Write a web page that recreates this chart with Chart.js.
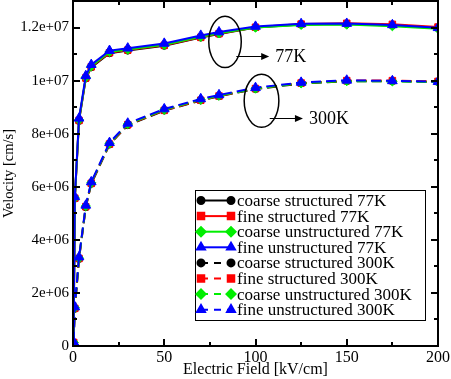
<!DOCTYPE html>
<html>
<head>
<meta charset="utf-8">
<script src="https://cdn.jsdelivr.net/npm/chart.js@4.4.1/dist/chart.umd.min.js"></script>
<style>
  html, body { margin: 0; padding: 0; background: #fff; }
  #wrap { width: 451px; height: 379px; }
</style>
</head>
<body>
<div id="wrap"><canvas id="c" width="451" height="379"></canvas></div>
<script>
// ---- data ----
const fieldValues = [0.3, 1, 3.3, 7, 10, 20, 30, 50, 70, 80, 100, 125, 150, 175, 200]; // kV/cm

const coarseStructured77   = [0.12e6, 5.55e6, 8.48e6, 10.08e6, 10.50e6, 11.03e6, 11.13e6, 11.31e6, 11.62e6, 11.76e6, 12.00e6, 12.11e6, 12.13e6, 12.08e6, 11.98e6];
const fineStructured77     = [0.13e6, 5.57e6, 8.50e6, 10.10e6, 10.52e6, 11.05e6, 11.15e6, 11.33e6, 11.63e6, 11.77e6, 12.01e6, 12.13e6, 12.16e6, 12.12e6, 12.02e6];
const coarseUnstructured77 = [0.14e6, 5.58e6, 8.52e6, 10.12e6, 10.54e6, 11.08e6, 11.17e6, 11.35e6, 11.65e6, 11.78e6, 12.00e6, 12.10e6, 12.11e6, 12.05e6, 11.95e6];
const fineUnstructured77   = [0.15e6, 5.62e6, 8.58e6, 10.18e6, 10.60e6, 11.13e6, 11.22e6, 11.40e6, 11.70e6, 11.83e6, 12.04e6, 12.14e6, 12.15e6, 12.10e6, 11.99e6];

const coarseStructured300   = [0.12e6, 1.40e6, 3.28e6, 5.23e6, 6.11e6, 7.59e6, 8.32e6, 8.87e6, 9.25e6, 9.41e6, 9.68e6, 9.89e6, 9.98e6, 9.98e6, 9.95e6];
const fineStructured300     = [0.13e6, 1.42e6, 3.30e6, 5.25e6, 6.13e6, 7.61e6, 8.34e6, 8.88e6, 9.26e6, 9.42e6, 9.70e6, 9.91e6, 10.00e6, 10.00e6, 9.97e6];
const coarseUnstructured300 = [0.14e6, 1.44e6, 3.31e6, 5.27e6, 6.15e6, 7.63e6, 8.36e6, 8.90e6, 9.28e6, 9.43e6, 9.70e6, 9.90e6, 9.98e6, 9.97e6, 9.94e6];
const fineUnstructured300   = [0.15e6, 1.47e6, 3.35e6, 5.30e6, 6.18e6, 7.66e6, 8.39e6, 8.93e6, 9.31e6, 9.46e6, 9.73e6, 9.93e6, 10.01e6, 9.99e6, 9.96e6];

const seriesLabels = [
  'coarse structured 77K', 'fine structured 77K', 'coarse unstructured 77K', 'fine unstructured 77K',
  'coarse structured 300K', 'fine structured 300K', 'coarse unstructured 300K', 'fine unstructured 300K'
];
const seriesValues = [
  coarseStructured77, fineStructured77, coarseUnstructured77, fineUnstructured77,
  coarseStructured300, fineStructured300, coarseUnstructured300, fineUnstructured300
];

const xTickValues = [0, 50, 100, 150, 200];
const xTickLabels = ['0', '50', '100', '150', '200'];
const yTickValues = [0, 2e6, 4e6, 6e6, 8e6, 1e7, 1.2e7];
const yTickLabels = ['0', '2e+06', '4e+06', '6e+06', '8e+06', '1e+07', '1.2e+07'];

// annotations in data units
const groupNotes = [
  { label: '77K',  cx: 83.3, cy: 11.46e6, rx: 8.9, ry: 0.97e6, ax0: 89.5, ax1: 107.5, ay: 10.93e6 },
  { label: '300K', cx: 103.3, cy: 9.24e6, rx: 9.5, ry: 1.0e6, ax0: 107.8, ax1: 126.0, ay: 8.61e6 }
];

// ---- styles ----
const colors = ['#000000', '#ff0000', '#00ee00', '#0000ff'];
const styles = ['circle', 'rect', 'rectRot', 'triangle'];
const radii = [3.5, 4.6, 4.6, 5.6];
const SERIF = '"Liberation Serif", "DejaVu Serif", serif';

const datasets = seriesValues.map((vals, i) => {
  const k = i % 4;
  const dashed = i >= 4;
  return {
    label: seriesLabels[i],
    data: fieldValues.map((x, j) => ({ x: x, y: vals[j] })),
    showLine: true,
    borderColor: colors[k],
    backgroundColor: colors[k],
    borderWidth: 2,
    borderDash: dashed ? [10, 5] : [],
    pointStyle: styles[k],
    pointRadius: radii[k],
    pointBorderWidth: 1,
    pointBorderColor: colors[k],
    pointBackgroundColor: colors[k],
    tension: 0,
    order: 4 - k
  };
});

const frame = {
  id: 'frame',
  afterDraw(chart) {
    const { ctx, chartArea: a, scales: { x, y } } = chart;
    ctx.save();
    ctx.strokeStyle = '#000';
    ctx.lineWidth = 2;
    ctx.setLineDash([]);
    ctx.strokeRect(a.left, a.top, a.right - a.left, a.bottom - a.top);
    // inward ticks on all four sides
    ctx.beginPath();
    for (let v = 0; v <= 200; v += 25) {
      const px = Math.round(x.getPixelForValue(v));
      const len = v % 50 === 0 ? 7 : 4;
      ctx.moveTo(px, a.bottom); ctx.lineTo(px, a.bottom - len);
      ctx.moveTo(px, a.top); ctx.lineTo(px, a.top + len);
    }
    for (let v = 0; v <= 1.3e7; v += 1e6) {
      const py = Math.round(y.getPixelForValue(v));
      const len = (v / 1e6) % 2 === 0 ? 7 : 4;
      ctx.moveTo(a.left, py); ctx.lineTo(a.left + len, py);
      ctx.moveTo(a.right, py); ctx.lineTo(a.right - len, py);
    }
    ctx.stroke();

    // group annotations (ellipse + arrow + label)
    groupNotes.forEach(n => {
      const cx = x.getPixelForValue(n.cx), cy = y.getPixelForValue(n.cy);
      const rx = x.getPixelForValue(n.cx + n.rx) - cx;
      const ry = cy - y.getPixelForValue(n.cy + n.ry);
      ctx.lineWidth = 1.5;
      ctx.beginPath();
      ctx.ellipse(cx, cy, rx, ry, 0, 0, Math.PI * 2);
      ctx.stroke();
      const x0 = x.getPixelForValue(n.ax0), x1 = x.getPixelForValue(n.ax1), ay = Math.round(y.getPixelForValue(n.ay)) + 0.5;
      ctx.lineWidth = 1;
      ctx.beginPath(); ctx.moveTo(x0, ay); ctx.lineTo(x1 - 6, ay); ctx.stroke();
      ctx.fillStyle = '#000';
      ctx.beginPath(); ctx.moveTo(x1, ay); ctx.lineTo(x1 - 8, ay - 3.5); ctx.lineTo(x1 - 8, ay + 3.5); ctx.closePath(); ctx.fill();
      ctx.font = '18px ' + SERIF;
      ctx.textBaseline = 'middle';
      ctx.textAlign = 'left';
      ctx.fillText(n.label, x1 + 6, ay + 1);
    });

    // legend box
    const lx = 195, ly = 190, lw = 230, lh = 130;
    ctx.fillStyle = '#fff';
    ctx.fillRect(lx, ly, lw, lh);
    ctx.lineWidth = 1;
    ctx.strokeStyle = '#000';
    ctx.strokeRect(lx + 0.5, ly + 0.5, lw, lh);
    chart.data.datasets.forEach((ds, i) => {
      const yy = ly + 10.5 + i * 15.6;
      const s0 = lx + 6, s1 = lx + 36;
      ctx.strokeStyle = ds.borderColor;
      ctx.lineWidth = 2;
      ctx.setLineDash(ds.borderDash.length ? [7, 6] : []);
      ctx.beginPath(); ctx.moveTo(s0, yy); ctx.lineTo(s1, yy); ctx.stroke();
      ctx.setLineDash([]);
      ctx.fillStyle = ds.backgroundColor;
      const r = Math.min(ds.pointRadius, 4.6);
      Chart.helpers.drawPoint(ctx, { pointStyle: ds.pointStyle, radius: r, rotation: 0, borderWidth: 1 }, s0, yy);
      Chart.helpers.drawPoint(ctx, { pointStyle: ds.pointStyle, radius: r, rotation: 0, borderWidth: 1 }, s1, yy);
      ctx.fillStyle = '#000';
      ctx.font = '17px ' + SERIF;
      ctx.textBaseline = 'middle';
      ctx.textAlign = 'left';
      ctx.fillText(ds.label, lx + 42, yy + 1);
    });
    ctx.restore();
  }
};

new Chart(document.getElementById('c'), {
  type: 'scatter',
  data: { datasets },
  options: {
    responsive: false,
    animation: false,
    devicePixelRatio: 1,
    layout: { autoPadding: false, padding: { top: 1, right: 13, left: 0, bottom: 0 } },
    plugins: { legend: { display: false }, tooltip: { enabled: false } },
    scales: {
      x: {
        type: 'linear', min: 0, max: 200,
        afterFit(s) { s.height = 33; s.paddingLeft = 0; s.paddingRight = 0; },
        afterBuildTicks(s) { s.ticks = xTickValues.map(v => ({ value: v })); },
        grid: { display: false, drawTicks: false },
        border: { display: false },
        ticks: {
          padding: 2, color: '#000', maxRotation: 0, autoSkip: false,
          font: { family: SERIF, size: 16 },
          callback: (v) => { const i = xTickValues.indexOf(v); return i >= 0 ? xTickLabels[i] : ''; }
        },
        title: { display: true, text: 'Electric Field [kV/cm]', color: '#000', padding: 0, font: { family: SERIF, size: 16 } }
      },
      y: {
        type: 'linear', min: 0, max: 1.3e7,
        afterFit(s) { s.width = 73; s.paddingTop = 0; s.paddingBottom = 0; },
        afterBuildTicks(s) { s.ticks = yTickValues.map(v => ({ value: v })); },
        grid: { display: false, drawTicks: false },
        border: { display: false },
        ticks: {
          padding: 4, color: '#000', autoSkip: false,
          font: { family: SERIF, size: 15 },
          callback: (v) => { const i = yTickValues.indexOf(v); return i >= 0 ? yTickLabels[i] : ''; }
        },
        title: { display: true, text: 'Velocity [cm/s]', color: '#000', padding: 0, font: { family: SERIF, size: 14.5 } }
      }
    }
  },
  plugins: [frame]
});
</script>
</body>
</html>
